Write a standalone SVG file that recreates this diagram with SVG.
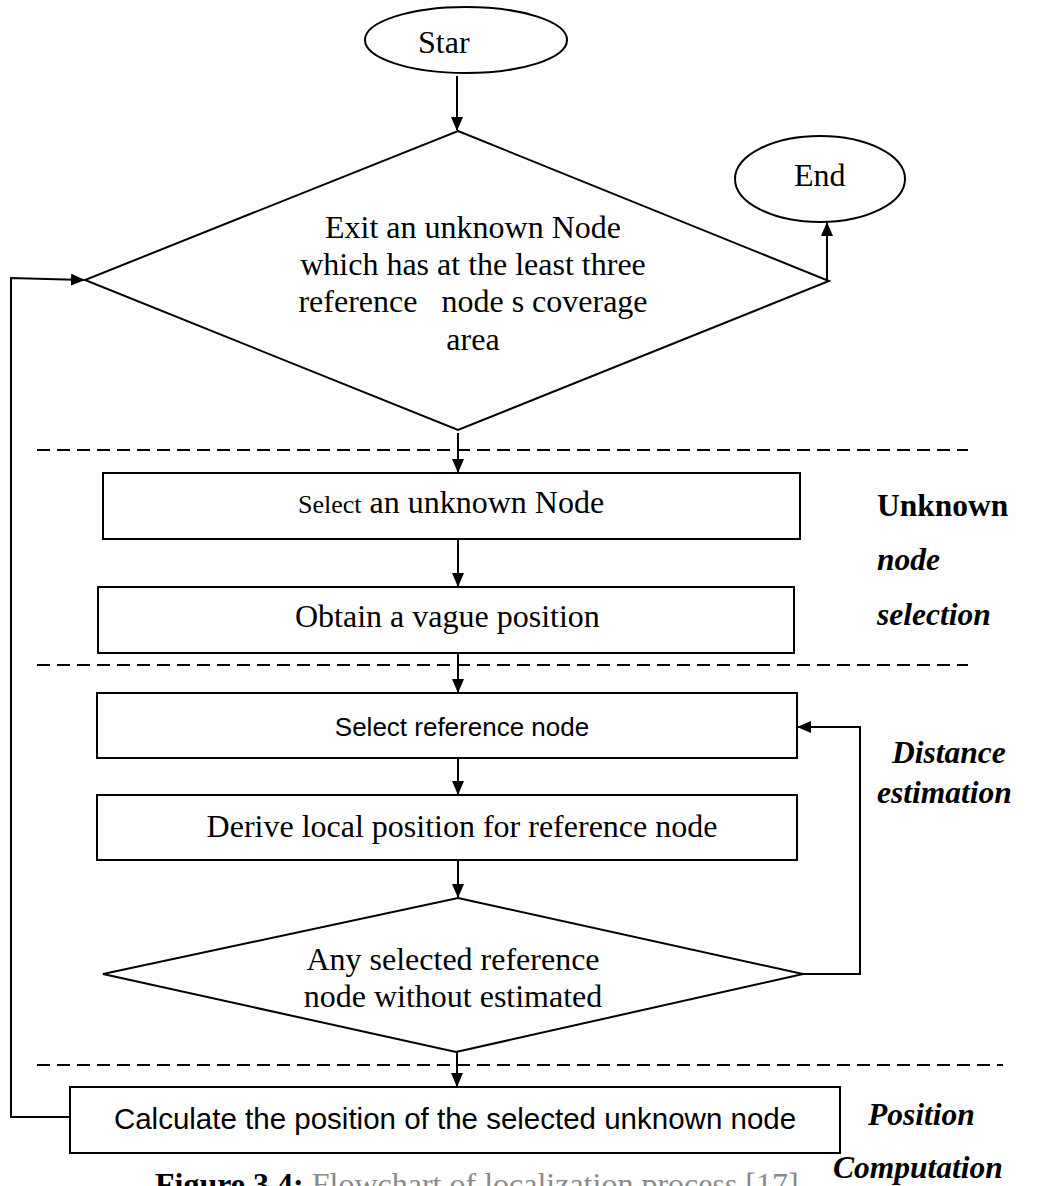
<svg xmlns="http://www.w3.org/2000/svg" width="1049" height="1186" viewBox="0 0 1049 1186">
  <style>
    .shape { fill: #fff; stroke: #000; stroke-width: 2; }
    .wire { fill: none; stroke: #000; stroke-width: 2; }
    .dash { fill: none; stroke: #000; stroke-width: 2; stroke-dasharray: 13 7; }
    .serif { font-family: "Liberation Serif", "Times New Roman", serif; font-size: 32px; fill: #000; }
    .sans { font-family: "Liberation Sans", Arial, sans-serif; fill: #000; }
    .lane { font-family: "Liberation Serif", "Times New Roman", serif; font-size: 31.5px; font-weight: bold; font-style: italic; fill: #000; }
    .lane-upright { font-family: "Liberation Serif", "Times New Roman", serif; font-size: 31.5px; font-weight: bold; fill: #000; }
    .mid { text-anchor: middle; }
  </style>
  <defs>
    <marker id="arrow" markerUnits="userSpaceOnUse" markerWidth="14" markerHeight="12" refX="13" refY="6" orient="auto">
      <path d="M0,0 L14,6 L0,12 z" fill="#000"/>
    </marker>
  </defs>
  <rect width="1049" height="1186" fill="#fff"/>

  <!-- lane separators -->
  <g id="separators">
    <line class="dash" x1="37" y1="450" x2="968" y2="450"/>
    <line class="dash" x1="37" y1="665" x2="968" y2="665"/>
    <line class="dash" x1="37" y1="1065" x2="1003" y2="1065"/>
  </g>

  <!-- connectors -->
  <g id="connectors">
    <line class="wire" x1="457" y1="76" x2="457" y2="130" marker-end="url(#arrow)"/>
    <line class="wire" x1="827" y1="281" x2="827" y2="223" marker-end="url(#arrow)"/>
    <line class="wire" x1="458" y1="433" x2="458" y2="472" marker-end="url(#arrow)"/>
    <line class="wire" x1="458" y1="539" x2="458" y2="586" marker-end="url(#arrow)"/>
    <line class="wire" x1="458" y1="653" x2="458" y2="692" marker-end="url(#arrow)"/>
    <line class="wire" x1="458" y1="758" x2="458" y2="794" marker-end="url(#arrow)"/>
    <line class="wire" x1="458" y1="860" x2="458" y2="897" marker-end="url(#arrow)"/>
    <polyline class="wire" points="803,974 860,974 860,727 798,727" marker-end="url(#arrow)"/>
    <line class="wire" x1="457" y1="1052" x2="457" y2="1086" marker-end="url(#arrow)"/>
    <polyline class="wire" points="70,1117 11,1117 11,278 84,280" marker-end="url(#arrow)"/>
  </g>

  <g id="start">
    <ellipse class="shape" cx="466" cy="40" rx="101" ry="33"/>
    <text class="serif" x="418" y="53" font-size="31">Star</text>
  </g>

  <g id="end">
    <ellipse class="shape" cx="820" cy="179" rx="85" ry="43"/>
    <text class="serif" x="794" y="186" font-size="31">End</text>
  </g>

  <g id="check-coverage">
    <polygon class="shape" points="458,131 829,281 458,430 85,280"/>
    <text class="serif mid" x="473" y="238">Exit an unknown Node</text>
    <text class="serif mid" x="473" y="275">which has at the least three</text>
    <text class="serif mid" x="473" y="312" xml:space="preserve">reference   node s coverage</text>
    <text class="serif mid" x="473" y="350">area</text>
  </g>

  <g id="select-unknown">
    <rect class="shape" x="103" y="473" width="697" height="66"/>
    <text class="serif" x="298" y="513"><tspan font-size="26">Select</tspan> an unknown Node</text>
  </g>

  <g id="vague-position">
    <rect class="shape" x="98" y="587" width="696" height="66"/>
    <text class="serif" x="295" y="627">Obtain a vague position</text>
  </g>

  <g id="select-reference">
    <rect class="shape" x="97" y="693" width="700" height="65"/>
    <text class="sans mid" x="462" y="736" font-size="26">Select reference node</text>
  </g>

  <g id="local-position">
    <rect class="shape" x="97" y="795" width="700" height="65"/>
    <text class="serif mid" x="462" y="837" font-size="31">Derive local position for reference node</text>
  </g>

  <g id="any-remaining">
    <polygon class="shape" points="458,898 803,974 456,1052 103,974"/>
    <text class="serif mid" x="453" y="970">Any selected reference</text>
    <text class="serif mid" x="453" y="1007">node without estimated</text>
  </g>

  <g id="compute-position">
    <rect class="shape" x="70" y="1087" width="770" height="66"/>
    <text class="sans mid" x="455" y="1129" font-size="29.5">Calculate the position of the selected unknown node</text>
  </g>

  <!-- stage labels -->
  <g id="stage-labels">
    <text class="lane-upright" x="877" y="516">Unknown</text>
    <text class="lane" x="877" y="570">node</text>
    <text class="lane" x="877" y="625">selection</text>
    <text class="lane" x="892" y="763" font-size="35">Distance</text>
    <text class="lane" x="877" y="803" font-size="35">estimation</text>
    <text class="lane" x="868" y="1125" font-size="33">Position</text>
    <text class="lane" x="833" y="1178" font-size="37">Computation</text>
  </g>

  <text class="serif" x="155" y="1195"><tspan font-weight="bold">Figure 3.4:</tspan><tspan fill="#8a8a8a"> Flowchart of localization process [17]</tspan></text>
</svg>
